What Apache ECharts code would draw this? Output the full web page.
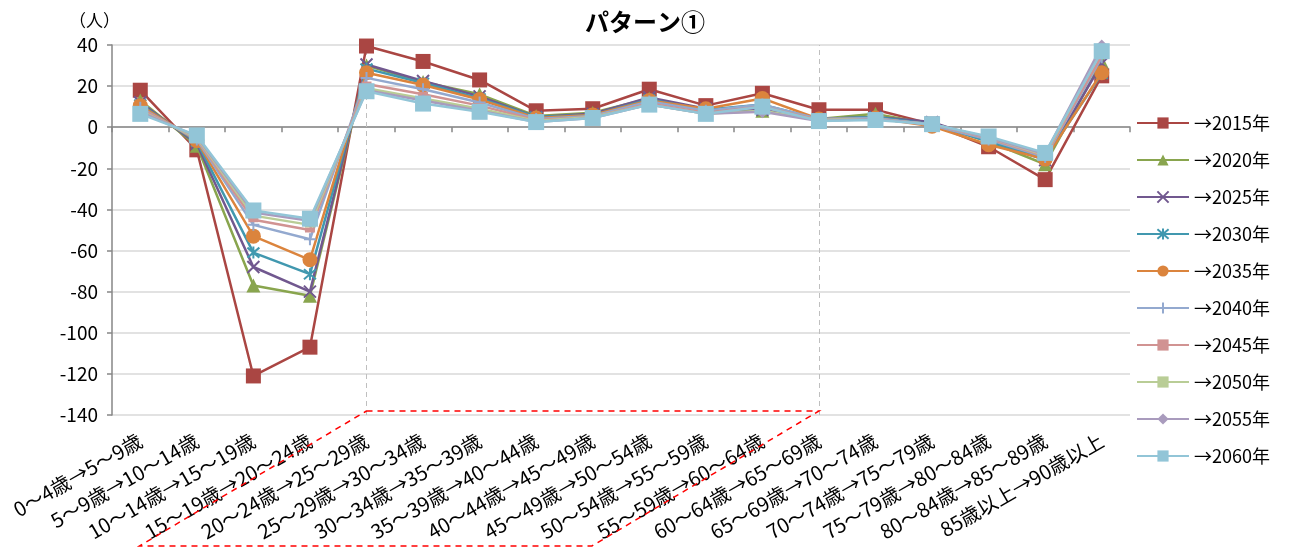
<!DOCTYPE html>
<html>
<head>
<meta charset="utf-8">
<script src="https://cdn.jsdelivr.net/npm/echarts@6/dist/echarts.min.js"></script>
<style>
html,body{margin:0;padding:0;background:#fff;}
#chart{width:1295px;height:554px;}
</style>
</head>
<body>
<div id="chart"></div>
<script>
const categories = ['0～4歳→5～9歳','5～9歳→10～14歳','10～14歳→15～19歳','15～19歳→20～24歳','20～24歳→25～29歳','25～29歳→30～34歳','30～34歳→35～39歳','35～39歳→40～44歳','40～44歳→45～49歳','45～49歳→50～54歳','50～54歳→55～59歳','55～59歳→60～64歳','60～64歳→65～69歳','65～69歳→70～74歳','70～74歳→75～79歳','75～79歳→80～84歳','80～84歳→85～89歳','85歳以上→90歳以上'];
const seriesNames = ['→2015年','→2020年','→2025年','→2030年','→2035年','→2040年','→2045年','→2050年','→2055年','→2060年'];
const s2015 = [18, -11, -121, -107, 39.5, 32, 23, 8, 9, 18.5, 10.5, 16.5, 8.5, 8.5, 1.5, -9.5, -25.5, 25];
const s2020 = [13, -9, -77, -82, 30, 22, 16, 5.5, 7, 14, 8, 8, 4, 6.5, 1.5, -7, -18, 32];
const s2025 = [12, -8, -68, -80, 30.5, 22.5, 15, 5, 6.5, 14.5, 9, 8.5, 4, 5, 2.5, -6.5, -16, 31];
const s2030 = [11, -7, -61, -71.5, 28.5, 21.5, 14, 5, 6, 13.5, 8.5, 11, 4, 5, 1.5, -7, -15, 26];
const s2035 = [10.5, -6.5, -53, -64.5, 26.5, 20.5, 13.5, 4.5, 6, 13, 9, 14, 4, 4.5, 0.5, -8.5, -15.5, 26.5];
const s2040 = [9.5, -6, -47.5, -54.5, 24, 18.5, 12, 4, 5.5, 12.5, 8, 11, 4, 4.5, 1, -6, -14.5, 34];
const s2045 = [9, -5.5, -45, -50, 21, 16, 10.5, 3.5, 5, 11.5, 7, 10, 3.5, 4, 1.5, -5.5, -14, 35];
const s2050 = [8, -5, -43, -47.5, 19, 14, 9, 3, 5, 11, 6.5, 8, 3.5, 4, 1.5, -5, -13.5, 38];
const s2055 = [7.5, -4.5, -41.5, -45.5, 18, 13, 8, 2.5, 4.5, 11, 6.5, 7.5, 3, 4, 1.5, -5, -13, 39.5];
const s2060 = [6.5, -4, -40.5, -44.5, 17.5, 11.5, 7.5, 2.5, 4.5, 11, 6.5, 10, 3, 3.5, 1.5, -4.5, -12.5, 37];
const yTicks = {min: -140, max: 40, interval: 20};

const allData = [s2015, s2020, s2025, s2030, s2035, s2040, s2045, s2050, s2055, s2060];
const colors = ['#AA4643','#89A54E','#71588F','#4198AF','#DB843D','#93A9CF','#D19392','#B9CD96','#A99BBD','#92C5D7'];
const symbols = ['rect','triangle','path://M0,0L10,10M10,0L0,10','path://M0,0L10,10M10,0L0,10M5,-1L5,11','circle','path://M5,0L5,10M0,5L10,5','rect','rect','diamond','rect'];
const sizes = [15, 14, 12, 12, 15, 12, [10,5], [10,5], 13, 16];
const strokeSym = [false,false,true,true,false,true,false,false,false,false];

const font = '"Noto Sans CJK JP", "Noto Sans", sans-serif';
const chart = echarts.init(document.getElementById('chart'), null, {renderer: 'canvas'});

const series = allData.map((d, i) => {
  const s = {
    name: seriesNames[i],
    type: 'line',
    data: d,
    symbol: symbols[i],
    symbolSize: sizes[i],
    showAllSymbol: true,
    lineStyle: {color: colors[i], width: 2.5},
    itemStyle: {color: colors[i], borderColor: colors[i], borderWidth: strokeSym[i] ? 2 : 0},
    emphasis: {disabled: true},
    animation: false,
    z: 2 + i
  };
  if (i === 0) {
    s.markLine = {
      silent: true,
      symbol: 'none',
      label: {show: false},
      lineStyle: {color: '#BFBFBF', type: [5, 4], width: 1},
      data: [{xAxis: categories[4]}, {xAxis: categories[12]}],
      z: 1
    };
  }
  return s;
});

chart.setOption({
  animation: false,
  backgroundColor: '#fff',
  title: [
    {text: 'パターン①', left: 580, top: 5, textStyle: {fontSize: 24, fontWeight: 'bold', color: '#000', fontFamily: font}},
    {text: '（人）', left: 64, top: 7, textStyle: {fontSize: 17, fontWeight: 'normal', color: '#000', fontFamily: font}}
  ],
  grid: {left: 112, top: 45, right: 165, bottom: 139, containLabel: false},
  legend: {
    orient: 'vertical',
    left: 1131,
    top: 108,
    itemWidth: 52,
    itemHeight: 14,
    itemGap: 17,
    textStyle: {fontSize: 18, color: '#000', fontFamily: font, lineHeight: 20},
    data: seriesNames.map((n) => ({name: n}))
  },
  xAxis: {
    type: 'category',
    data: categories,
    boundaryGap: true,
    axisLine: {lineStyle: {color: '#868686', width: 1.5}},
    axisTick: {show: true, length: 5, lineStyle: {color: '#868686', width: 1.5}},
    axisLabel: {interval: 0, rotate: 30, fontSize: 20, color: '#000', fontFamily: font, margin: 24},
    splitLine: {show: false}
  },
  yAxis: {
    type: 'value',
    min: yTicks.min,
    max: yTicks.max,
    interval: yTicks.interval,
    axisLine: {show: true, lineStyle: {color: '#868686', width: 1.5}},
    axisTick: {show: true, length: 5, lineStyle: {color: '#868686', width: 1.5}},
    axisLabel: {fontSize: 19, color: '#000', fontFamily: font, margin: 14},
    splitLine: {show: true, lineStyle: {color: '#D9D9D9', width: 1.5}}
  },
  series: series
});

// red dashed parallelogram annotation around labels
const x4 = chart.convertToPixel({xAxisIndex: 0}, categories[4]);
const x12 = chart.convertToPixel({xAxisIndex: 0}, categories[12]);
const yb = chart.convertToPixel({yAxisIndex: 0}, yTicks.min);
const topY = yb - 4;
const dx = -227, dy = 135;
chart.setOption({
  graphic: [{
    type: 'polyline',
    shape: {points: [[x4, topY], [x12, topY], [x12 + dx, topY + dy], [x4 + dx, topY + dy], [x4, topY]]},
    style: {stroke: '#FF0000', lineWidth: 1.5, lineDash: [6, 5], fill: null},
    z: 100,
    silent: true
  }]
});
</script>
</body>
</html>
